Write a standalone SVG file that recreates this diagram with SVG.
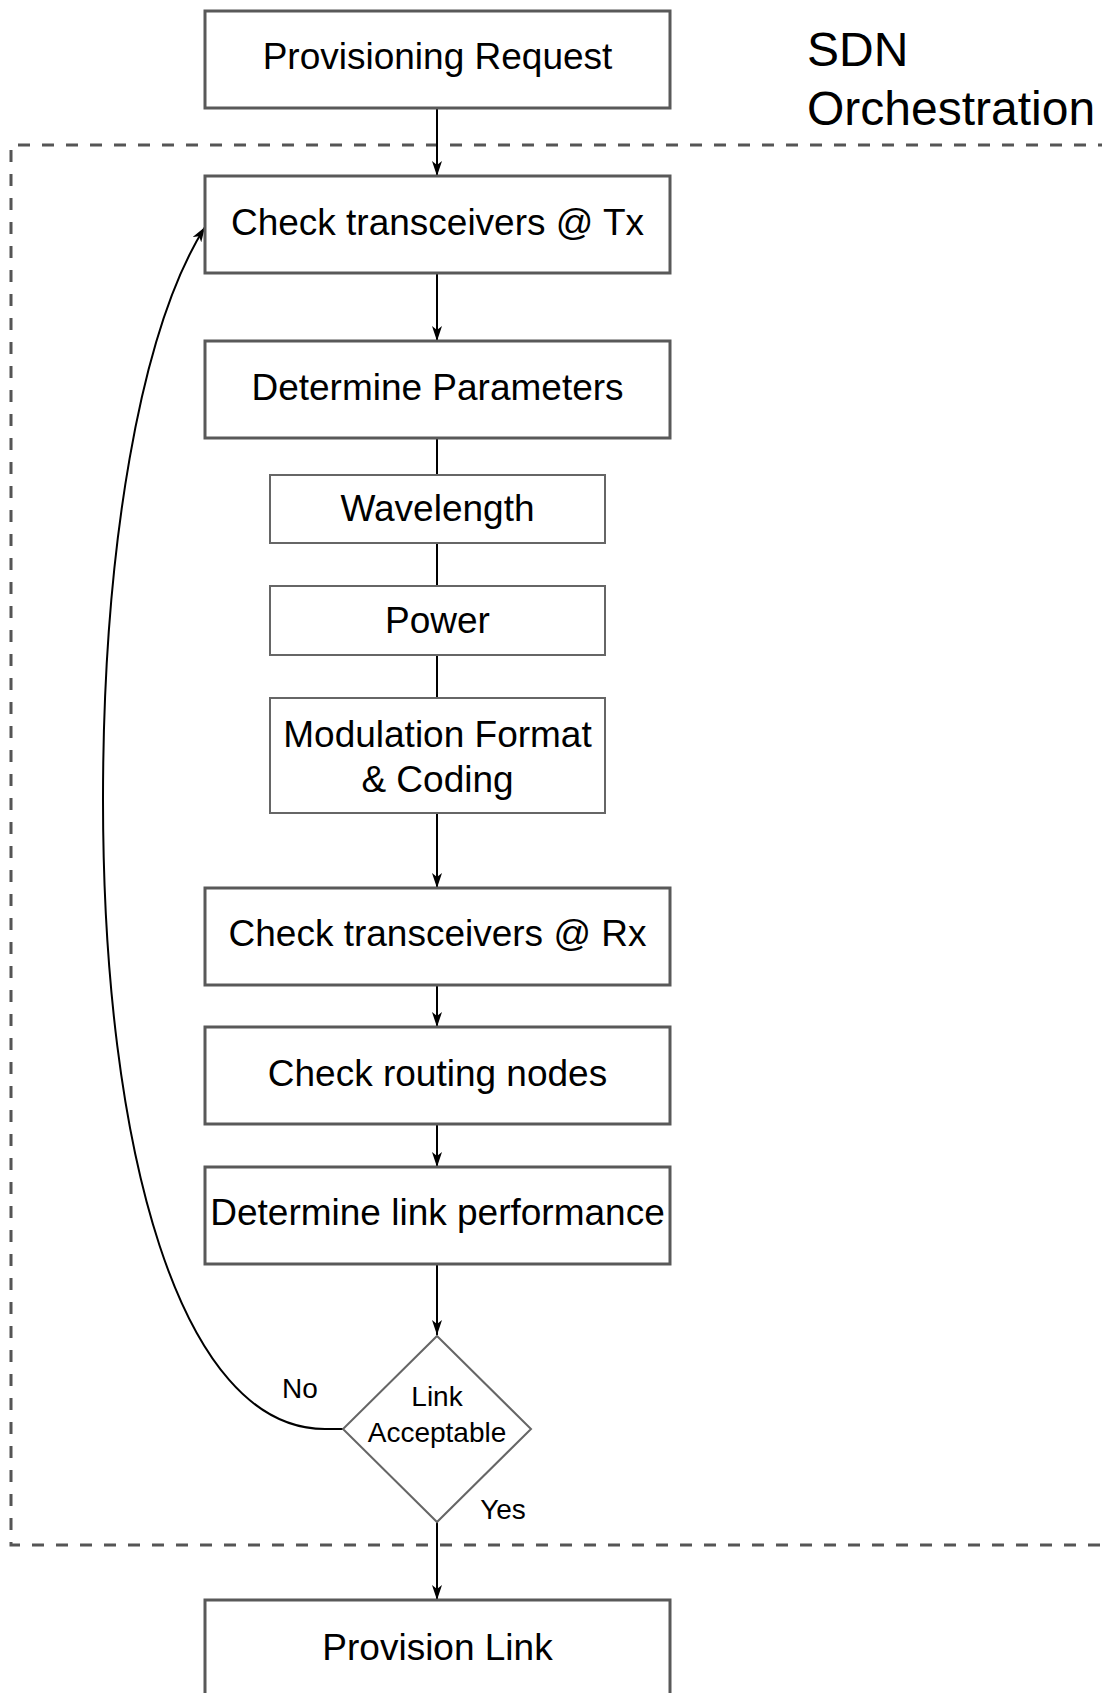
<svg xmlns="http://www.w3.org/2000/svg" width="1102" height="1693" viewBox="0 0 1102 1693">
<style>
  text { font-family: "Liberation Sans", Arial, sans-serif; fill: #000; text-anchor: middle; }
  .big { font-size: 37px; }
  .small { font-size: 28px; }
  .title { font-size: 48px; text-anchor: start; }
  .box { fill: #fff; stroke: #595959; stroke-width: 3; }
  .sub { fill: #fff; stroke: #666; stroke-width: 2; }
  .dash { fill: none; stroke: #555; stroke-width: 3; stroke-dasharray: 12 12; }
  .conn { fill: none; stroke: #000; stroke-width: 2; }
</style>
<defs>
  <marker id="arr" viewBox="0 0 15 10" refX="15" refY="5" markerWidth="15" markerHeight="10" markerUnits="userSpaceOnUse" orient="auto">
    <path d="M0,0 L15,5 L0,10 L4,5 z" fill="#000"/>
  </marker>
</defs>
<rect width="1102" height="1693" fill="#fff"/>

<g id="orchestration-boundary">
  <path class="dash" d="M1110 145 H11 V1545 H1110"/>
  <text class="title" x="807" y="66">SDN</text>
  <text class="title" x="807" y="125">Orchestration</text>
</g>

<g id="connectors">
  <line class="conn" x1="437" y1="108" x2="437" y2="176" marker-end="url(#arr)"/>
  <line class="conn" x1="437" y1="273" x2="437" y2="341" marker-end="url(#arr)"/>
  <line class="conn" x1="437" y1="438" x2="437" y2="475"/>
  <line class="conn" x1="437" y1="543" x2="437" y2="586"/>
  <line class="conn" x1="437" y1="655" x2="437" y2="698"/>
  <line class="conn" x1="437" y1="813" x2="437" y2="888" marker-end="url(#arr)"/>
  <line class="conn" x1="437" y1="985" x2="437" y2="1027" marker-end="url(#arr)"/>
  <line class="conn" x1="437" y1="1124" x2="437" y2="1167" marker-end="url(#arr)"/>
  <line class="conn" x1="437" y1="1264" x2="437" y2="1335" marker-end="url(#arr)"/>
  <line class="conn" x1="437" y1="1522" x2="437" y2="1600" marker-end="url(#arr)"/>
  <path class="conn" d="M343 1429 L325 1429 C180 1429 103 1150 103 800 C103 550 140 330 205 227" marker-end="url(#arr)"/>
  <text class="small" x="300" y="1398">No</text>
  <text class="small" x="503" y="1519">Yes</text>
</g>

<g id="provisioning-request">
  <rect class="box" x="205" y="11" width="465" height="97"/>
  <text class="big" x="437.5" y="69">Provisioning Request</text>
</g>
<g id="check-tx">
  <rect class="box" x="205" y="176" width="465" height="97"/>
  <text class="big" x="437.5" y="235">Check transceivers @ Tx</text>
</g>
<g id="determine-parameters">
  <rect class="box" x="205" y="341" width="465" height="97"/>
  <text class="big" x="437.5" y="400">Determine Parameters</text>
</g>
<g id="wavelength">
  <rect class="sub" x="270" y="475" width="335" height="68"/>
  <text class="big" x="437.5" y="521">Wavelength</text>
</g>
<g id="power">
  <rect class="sub" x="270" y="586" width="335" height="69"/>
  <text class="big" x="437.5" y="633">Power</text>
</g>
<g id="modulation">
  <rect class="sub" x="270" y="698" width="335" height="115"/>
  <text class="big" x="437.5" y="747">Modulation Format</text>
  <text class="big" x="437.5" y="792">&amp; Coding</text>
</g>
<g id="check-rx">
  <rect class="box" x="205" y="888" width="465" height="97"/>
  <text class="big" x="437.5" y="946">Check transceivers @ Rx</text>
</g>
<g id="check-routing">
  <rect class="box" x="205" y="1027" width="465" height="97"/>
  <text class="big" x="437.5" y="1086">Check routing nodes</text>
</g>
<g id="link-performance">
  <rect class="box" x="205" y="1167" width="465" height="97"/>
  <text class="big" x="437.5" y="1225">Determine link performance</text>
</g>
<g id="link-acceptable">
  <polygon class="sub" points="437,1336 531,1429 437,1522 343,1429"/>
  <text class="small" x="437" y="1406">Link</text>
  <text class="small" x="437" y="1442">Acceptable</text>
</g>
<g id="provision-link">
  <rect class="box" x="205" y="1600" width="465" height="100"/>
  <text class="big" x="437.5" y="1660">Provision Link</text>
</g>
</svg>
